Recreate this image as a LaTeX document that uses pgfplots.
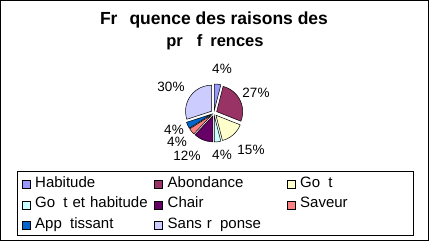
\documentclass[border=0pt]{standalone}
\usepackage{pgfplots}
\pgfplotsset{compat=1.18}
\usepackage{pgfplotstable}
\usepackage{fontspec}
\setmainfont{Liberation Sans}
\definecolor{c0}{HTML}{9999FF}
\definecolor{c1}{HTML}{993366}
\definecolor{c2}{HTML}{FFFFCC}
\definecolor{c3}{HTML}{CCFFFF}
\definecolor{c4}{HTML}{660066}
\definecolor{c5}{HTML}{FF8080}
\definecolor{c6}{HTML}{0066CC}
\definecolor{c7}{HTML}{CCCCFF}
\pgfplotstableread{
value
4
27
15
4
12
4
4
30
}\piedata
\begin{document}
\begin{tikzpicture}
\begin{axis}[scale only axis, width=429pt, height=241pt,
  xmin=0, xmax=429, ymin=0, ymax=241, hide axis, clip=false,
  legend columns=3, legend cell align=left,
  legend style={at={(axis cs:21.5,67)}, anchor=north west, draw=none, fill=none,
    inner sep=0pt, font=\fontsize{15}{17}\selectfont, row sep=0pt,
    nodes={text width=117pt, inner xsep=2pt, inner ysep=4.25pt, text height=9pt, text depth=3pt},
    /tikz/every odd column/.append style={column sep=3pt}},
  legend image code/.code={\draw[#1, draw=black, line width=0.5pt] (0pt,-4pt) rectangle (8pt,4pt);},
  legend entries={Habitude, Abondance, Go\hspace{0.55em}t, Go\hspace{0.55em}t et habitude, Chair, Saveur, App\hspace{0.55em}tissant, Sans r\hspace{0.55em}ponse}]
\def\cum{0}
\pgfplotsforeachungrouped \idx in {0,...,7}{%
  \pgfplotstablegetelem{\idx}{value}\of\piedata
  \let\val\pgfplotsretval
  \pgfmathsetmacro\angA{\cum*3.6}
  \pgfmathsetmacro\angB{(\cum+\val)*3.6}
  \pgfmathsetmacro\angM{(\angA+\angB)/2}
  \pgfmathsetmacro\px{214+3*sin(\angM)}
  \pgfmathsetmacro\py{128+3*cos(\angM)}
  \pgfmathsetmacro\cum{\cum+\val}
  \edef\doplot{\noexpand\addplot[fill=c\idx, draw=black, line width=0.5pt, domain=\angA:\angB, samples=40, variable=\noexpand\t] ({\px+26*sin(\noexpand\t)},{\py+26*cos(\noexpand\t)}) -- (axis cs:\px,\py) -- cycle;}
  \doplot
}
\draw[black, line width=1pt] (axis cs:0.5,0.5) rectangle (axis cs:428.5,240.5);
\draw[black, line width=1pt] (axis cs:17,5) rectangle (axis cs:413,69);
\node[anchor=base, font=\fontsize{17.5}{19}\selectfont\bfseries] at (axis cs:214,216) {Fr\hspace{12pt}quence des raisons des};
\node[anchor=base, font=\fontsize{16.5}{18}\selectfont\bfseries] at (axis cs:215,194) {pr\hspace{14pt}f\hspace{8pt}rences};
\begin{scope}[every node/.style={font=\fontsize{13.5}{15}\selectfont, inner sep=0.5pt}]
\node at (axis cs:222,172) {4\%};
\node at (axis cs:256,148) {27\%};
\node at (axis cs:251,91) {15\%};
\node at (axis cs:222,86) {4\%};
\node at (axis cs:187,85) {12\%};
\node at (axis cs:177,99) {4\%};
\node at (axis cs:174,111.5) {4\%};
\node at (axis cs:171,154) {30\%};
\end{scope}
\end{axis}
\end{tikzpicture}
\end{document}
